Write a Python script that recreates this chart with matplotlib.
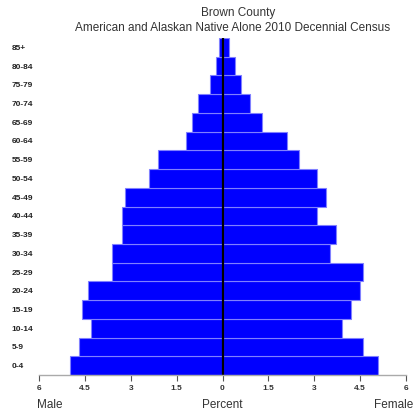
import numpy as np
import matplotlib
matplotlib.use("Agg")
import matplotlib.pyplot as plt

plt.rcParams['font.family'] = ['Liberation Sans', 'DejaVu Sans']

# age groups, bottom to top
ages = ["0-4", "5-9", "10-14", "15-19", "20-24", "25-29", "30-34", "35-39", "40-44",
        "45-49", "50-54", "55-59", "60-64", "65-69", "70-74", "75-79", "80-84", "85+"]
male = [5.0, 4.7, 4.3, 4.6, 4.4, 3.6, 3.6, 3.3, 3.3,
        3.2, 2.4, 2.1, 1.2, 1.0, 0.8, 0.4, 0.2, 0.1]
female = [5.1, 4.6, 3.9, 4.2, 4.5, 4.6, 3.5, 3.7, 3.1,
          3.4, 3.1, 2.5, 2.1, 1.3, 0.9, 0.6, 0.4, 0.2]
ticks = [-6, -4.5, -3, -1.5, 0, 1.5, 3, 4.5, 6]
tick_labels = ["6", "4.5", "3", "1.5", "0", "1.5", "3", "4.5", "6"]

fig = plt.figure(figsize=(4.13, 4.13), dpi=100)
ax = fig.add_axes([39/413, 1 - 375/413, 367/413, 337/413])

y = np.arange(len(ages))
ax.barh(y, -np.array(male), height=1.0, color="#0000ff", edgecolor="#8080ff", linewidth=0.8)
ax.barh(y, female, height=1.0, color="#0000ff", edgecolor="#8080ff", linewidth=0.8)
ax.axvline(0, color="black", linewidth=1.6)

ax.set_xlim(-6, 6)
ax.set_ylim(-0.5, len(ages) - 0.5)
for s in ["top", "right", "left"]:
    ax.spines[s].set_visible(False)
ax.spines["bottom"].set_color("#aaaaaa")
ax.spines["bottom"].set_linewidth(1)

ax.set_xticks(ticks)
ax.set_xticklabels(tick_labels, fontsize=6, color="#333333", fontweight="bold")
ax.tick_params(axis="x", length=4, color="#555555", pad=3)
ax.set_yticks(y)
ax.set_yticklabels(ages, fontsize=6, color="#222222", fontweight="bold", ha="left")
ax.tick_params(axis="y", length=0, pad=19.5)

fig.text(238/413, 1 - 13/413, "Brown County", ha="center", va="center", fontsize=8.5, color="#333333")
fig.text(233/413, 1 - 28/413, "American and Alaskan Native Alone 2010 Decennial Census",
         ha="center", va="center", fontsize=8.5, color="#333333")
fig.text(37/413, 1 - 405/413, "Male", ha="left", va="center", fontsize=8.5, color="#333333")
fig.text(222/413, 1 - 405/413, "Percent", ha="center", va="center", fontsize=8.5, color="#333333")
fig.text(413/413, 1 - 405/413, "Female", ha="right", va="center", fontsize=8.5, color="#333333")

fig.savefig("out.png", dpi=100)
